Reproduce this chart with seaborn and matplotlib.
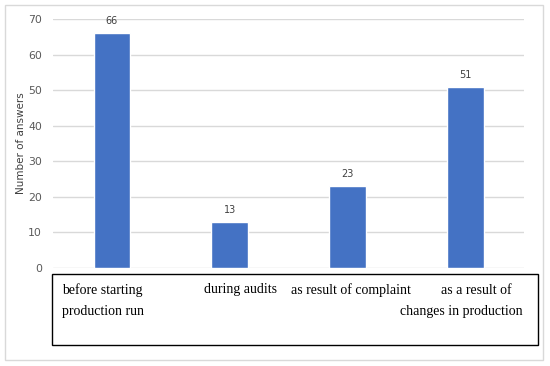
import matplotlib
matplotlib.use('Agg')

import pandas as pd
import matplotlib.pyplot as plt
import seaborn as sns
from matplotlib.patches import Rectangle

# Data
categories = ["before starting\nproduction run", "during audits",
              "as result of complaint", "as a result of\nchanges in production"]
answers = [66, 13, 23, 51]

df = pd.DataFrame({'Category': categories, 'Answers': answers})

sns.set_style('white')
fig = plt.figure(figsize=(5.5, 3.66), dpi=100)
ax = fig.add_axes([0.0964, 0.268, 0.8566, 0.68])

sns.barplot(data=df, x='Category', y='Answers', color='#4472C4', width=0.31,
            saturation=1, ax=ax, zorder=3)

for i, v in enumerate(answers):
    ax.annotate(str(v), (i, v), xytext=(0, 5), textcoords='offset points',
                ha='center', va='bottom', fontsize=7, color='#404040')

ax.set_ylim(0, 70)
ax.set_xlim(-0.5, 3.5)
ax.set_yticks(range(0, 71, 10))
ax.yaxis.grid(True, color='#d9d9d9', linewidth=1, zorder=0)
ax.tick_params(axis='y', length=0, pad=8, labelsize=7.8, labelcolor='#595959')
ax.set_xticks([])
ax.set_xlabel('')
ax.set_ylabel('Number of answers', fontsize=7.5, color='#404040')
ax.yaxis.set_label_coords(-0.058, 0.5)
for s in ax.spines.values():
    s.set_visible(False)

# outer light border
fig.patches.append(Rectangle((5 / 550, 1 - 360 / 366), 538 / 550, 355 / 366,
                             transform=fig.transFigure, fill=False,
                             edgecolor='#d9d9d9', linewidth=1))
# category label box
fig.patches.append(Rectangle((52 / 550, 1 - 345 / 366), 486 / 550, 71 / 366,
                             transform=fig.transFigure, fill=False,
                             edgecolor='black', linewidth=1))

serif = dict(family='Liberation Serif', fontsize=10, color='black', va='center')
l1 = 1 - 290 / 366
l2 = 1 - 311 / 366
fig.text(62 / 550, l1, 'before starting', ha='left', **serif)
fig.text(62 / 550, l2, 'production run', ha='left', **serif)
fig.text(204 / 550, l1, 'during audits', ha='left', **serif)
fig.text(291 / 550, l1, 'as result of complaint', ha='left', **serif)
fig.text(476 / 550, l1, 'as a result of', ha='center', **serif)
fig.text(523 / 550, l2, 'changes in production', ha='right', **serif)

plt.savefig('out.png', dpi=100)
